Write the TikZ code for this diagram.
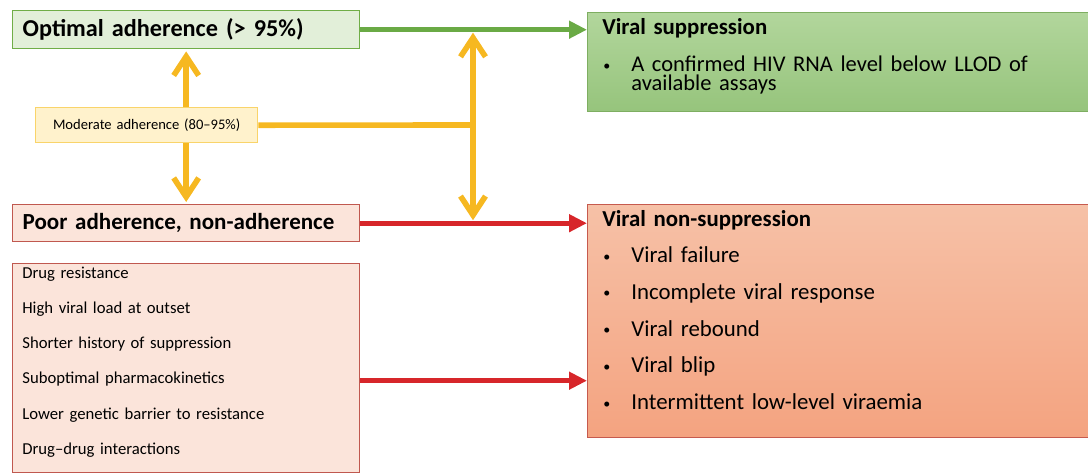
\documentclass[tikz,border=0pt]{standalone}
\usepackage{fontspec}
\setmainfont{Carlito}
\usepackage{xcolor}
\usetikzlibrary{arrows.meta,positioning,calc}

\definecolor{optfill}{HTML}{E2EFD9}
\definecolor{optline}{HTML}{70AD47}
\definecolor{modfill}{HTML}{FFF2CC}
\definecolor{modline}{HTML}{F9D46A}
\definecolor{poorfill}{HTML}{FBE4DA}
\definecolor{poorline}{HTML}{C0584F}
\definecolor{suptop}{HTML}{B2D69C}
\definecolor{supbot}{HTML}{96C47C}
\definecolor{supline}{HTML}{7EAE61}
\definecolor{nontop}{HTML}{F6C1A7}
\definecolor{nonbot}{HTML}{F4A380}
\definecolor{nonline}{HTML}{C65A4E}
\definecolor{greenarr}{HTML}{6AAA45}
\definecolor{redarr}{HTML}{D7262A}
\definecolor{yelarr}{HTML}{F6B821}

% small bullet, then the text starts 0.58cm further on
\newcommand{\bul}{\makebox[0.58cm][l]{\hspace{0.02cm}\raisebox{0.9pt}{\fontsize{8}{8}\selectfont\textbullet}}}

\begin{document}
\begin{tikzpicture}[x=0.02cm, y=-0.02cm,
  box/.style={draw, line width=0.8pt, anchor=north west, inner ysep=0pt, align=left},
  listtext/.style={anchor=base west, inner sep=0pt, text width=9.6cm, align=left},
  garr/.style={draw=greenarr, line width=2.8pt, -{Triangle[length=0.36cm,width=0.34cm]}},
  rarr/.style={draw=redarr, line width=2.8pt, -{Triangle[length=0.36cm,width=0.34cm]}},
  yarr/.style={draw=yelarr, line width=3.2pt},
  ytip/.style={-{Straight Barb[length=0.38cm,width=0.5cm]}}]
\useasboundingbox (0,0) rectangle (1088,474);
% adherence levels
\node[box, draw=optline, fill=optfill, text width=6.54cm, inner xsep=0.2cm,
  minimum height=0.76cm, font=\fontsize{13.8}{16}\selectfont\bfseries] (opt) at (12,10) {Optimal adherence (> 95\%)};
\node[box, draw=modline, fill=modfill, text width=4.24cm, inner xsep=0.1cm, align=center,
  minimum height=0.7cm, font=\fontsize{8.3}{10}\selectfont] (mod) at (35,107) {Moderate adherence (80--95\%)};
\node[box, draw=poorline, fill=poorfill, text width=6.54cm, inner xsep=0.2cm,
  minimum height=0.74cm, font=\fontsize{13.1}{16}\selectfont\bfseries] (poor) at (12,204) {Poor adherence, non-adherence};
\node[box, draw=poorline, fill=poorfill, minimum width=6.94cm, minimum height=4.18cm] (fact) at (12,263) {};
\node[listtext, text width=6.5cm, font=\fontsize{9.5}{20.07}\selectfont] (facttxt) at (22,278)
  {Drug resistance\\ High viral load at outset\\ Shorter history of suppression\\
   Suboptimal pharmacokinetics\\ Lower genetic barrier to resistance\\ Drug--drug interactions};
% outcomes
\node[box, draw=supline, top color=suptop, bottom color=supbot, minimum width=10.02cm,
  minimum height=1.98cm] (sup) at (587,12) {};
\node[listtext, font=\fontsize{13}{10.8}\selectfont] (suptxt) at (602,34)
  {\lineskiplimit=-20pt{\bfseries Viral suppression}\par\vspace{10.7pt}
   {\fontsize{12.8}{10.8}\selectfont\bul A confirmed HIV RNA level below LLOD of\par
   \hspace*{0.58cm}available assays}};
\node[box, draw=nonline, top color=nontop, bottom color=nonbot, minimum width=10.02cm,
  minimum height=4.66cm] (non) at (587,204) {};
\node[listtext, font=\fontsize{13}{20.9}\selectfont] (nontxt) at (602,226)
  {{\bfseries Viral non-suppression}\par
   \bul Viral failure\par
   \bul Incomplete viral response\par
   \bul Viral rebound\par
   \bul Viral blip\par
   \bul Intermittent low-level viraemia};
% connectors
\coordinate (hub) at (473,125);
\coordinate (fx) at ($(fact.east)+(0,12.5)$);
\draw[garr] (opt.east) -- (opt.east -| sup.west);
\draw[rarr] (poor.east) -- (poor.east -| non.west);
\draw[rarr] (fx) -- (fx -| non.west);
\draw[yarr] (mod.east) -- (hub);
\draw[yarr, {Straight Barb[length=0.38cm,width=0.5cm]}-{Straight Barb[length=0.38cm,width=0.5cm]}]
  ($(hub |- opt.east)+(0,3)$) -- ($(hub |- poor.east)+(0,-3)$);
\draw[yarr, ytip] (opt.south |- mod.north) -- ($(opt.south)+(0,2)$);
\draw[yarr, ytip] (opt.south |- mod.south) -- ($(opt.south |- poor.north)+(0,-2)$);
\end{tikzpicture}
\end{document}
